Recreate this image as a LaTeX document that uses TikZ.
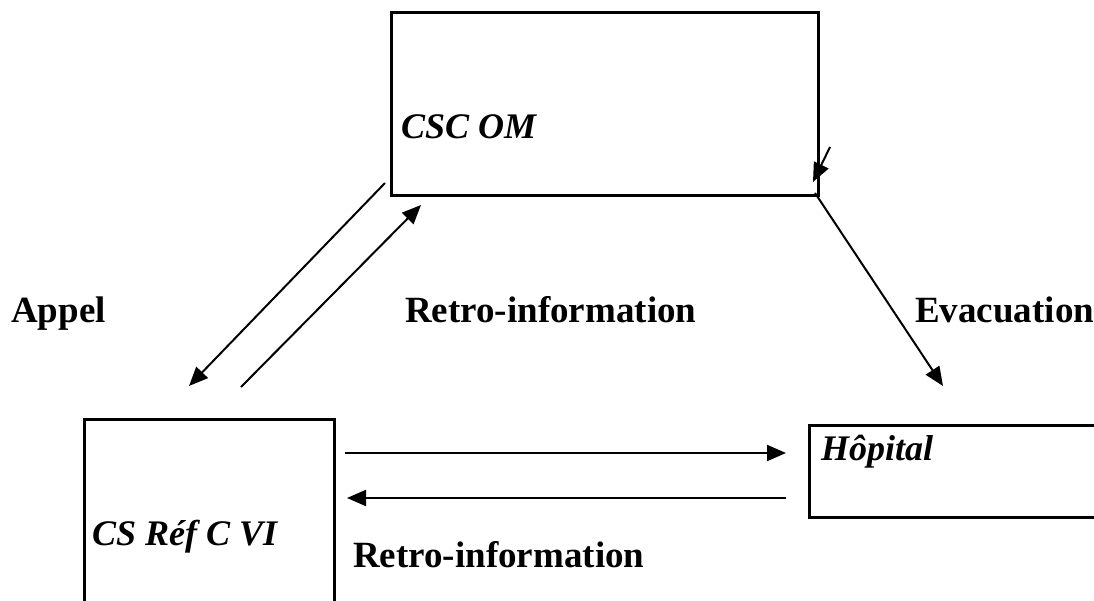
\documentclass[tikz,border=0pt]{standalone}
\usepackage{fontspec}
\setmainfont{Liberation Serif}
\usepackage{tikz}
\usetikzlibrary{arrows.meta}

\begin{document}
\begin{tikzpicture}[x=1pt,y=-1pt,
    box/.style={draw, line width=3pt, inner sep=0pt, outer sep=0pt},
    arr/.style={line width=2pt, -{Triangle[length=19pt,width=16pt]}},
    lbl/.style={font=\fontsize{37}{44}\selectfont\bfseries, anchor=base west, inner sep=0pt},
    place/.style={font=\fontsize{36}{43}\selectfont\bfseries\itshape, anchor=base west, inner sep=0pt}]
    \useasboundingbox (0,0) rectangle (1094,601);
    \clip (0,0) rectangle (1094,601);

    \node[box, minimum width=427pt, minimum height=183pt] (csc) at (604.5,104.5) {};
    \node[box, minimum width=250pt, minimum height=211pt] (csref) at (209,524.5) {};
    \node[box, minimum width=301pt, minimum height=92pt] (hop) at (959.5,471) {};

    \node[place] (csctxt) at (401,139) {CSC OM};
    \node[place] (reftxt) at (92,545) {CS Réf C VI};
    \node[place] (hoptxt) at (821,460) {Hôpital};

    \node[lbl] (appel) at (11,323) {Appel};
    \node[lbl] (retroA) at (405,323) {Retro-information};
    \node[lbl] (evac) at (915,323) {Evacuation};
    \node[lbl] (retroB) at (353,567) {Retro-information};

    \draw[arr] ([shift={(-6,-13)}]csc.south west) -- ([shift={(105,-33)}]csref.north west);
    \draw[arr] ([shift={(157,-32)}]csref.north west) -- ([shift={(30,9)}]csc.south west);
    \draw[arr] ([shift={(12,-49)}]csc.south east) -- ([shift={(-5,-14)}]csc.south east);
    \draw[arr] ([shift={(-3,-3)}]csc.south east) -- ([shift={(134,-39)}]hop.north west);

    \draw[arr] ([shift={(11,34)}]csref.north east) -- ([shift={(-23,28)}]hop.north west);
    \draw[arr] ([shift={(-23,-19)}]hop.south west) -- ([shift={(13,79)}]csref.north east);
\end{tikzpicture}
\end{document}
